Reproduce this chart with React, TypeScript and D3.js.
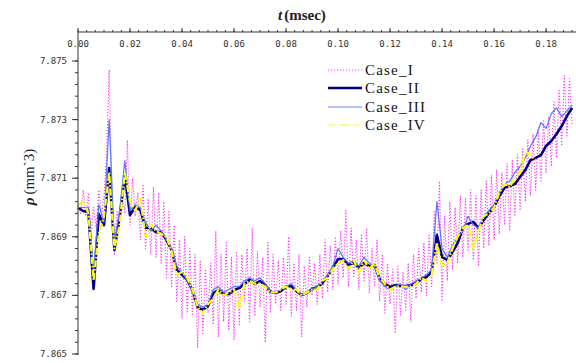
import React from "react";
import * as d3 from "d3";

// t (msec) sampling of the smooth cases and of the noisy Case_I
const tCoarse: number[] = Array.from({ length: 96 }, (_, i) => +(i * 0.002).toFixed(3));
const tFine: number[] = Array.from({ length: 191 }, (_, i) => +(i * 0.001).toFixed(3));

const caseI: number[] = [
  7.8701, 7.8698, 7.8706, 7.8697, 7.8705, 7.869, 7.87, 7.8693, 7.8706, 7.8697,
  7.8704, 7.8718, 7.8747, 7.8702, 7.8684, 7.8699, 7.8695, 7.8704, 7.8698, 7.8723,
  7.8694, 7.871, 7.8697, 7.8705, 7.8689, 7.8708, 7.8686, 7.8703, 7.8684, 7.8707,
  7.8683, 7.8705, 7.8681, 7.8702, 7.8676, 7.8699, 7.8673, 7.8694, 7.8668, 7.8689,
  7.8662, 7.869, 7.8664, 7.8686, 7.8663, 7.8684, 7.8652, 7.8682, 7.8657, 7.8679,
  7.8664, 7.8681, 7.866, 7.8692, 7.8656, 7.8684, 7.8661, 7.8688, 7.8658, 7.8683,
  7.8655, 7.8685, 7.866, 7.8684, 7.8668, 7.8686, 7.8661, 7.8693, 7.8663, 7.8685,
  7.8666, 7.8683, 7.8654, 7.8688, 7.8664, 7.8684, 7.8667, 7.8682, 7.8665, 7.8683,
  7.8667, 7.869, 7.8663, 7.8681, 7.8665, 7.8684, 7.8656, 7.868, 7.8666, 7.8683,
  7.867, 7.8681, 7.8667, 7.8684, 7.8669, 7.8689, 7.8671, 7.8687, 7.8672, 7.869,
  7.8674, 7.8692, 7.8676, 7.8699, 7.8673, 7.8693, 7.8676, 7.8689, 7.8672, 7.8691,
  7.8675, 7.8693, 7.8671, 7.8686, 7.8673, 7.8689, 7.8668, 7.8684, 7.8664, 7.8681,
  7.8667, 7.8679, 7.8657, 7.868, 7.8663, 7.8678, 7.8665, 7.8681, 7.8661, 7.8684,
  7.8669, 7.8686, 7.8671, 7.8688, 7.867, 7.8691, 7.8673, 7.8699, 7.8681, 7.8709,
  7.8668, 7.8697, 7.8675, 7.8702, 7.8679, 7.87, 7.8681, 7.8704, 7.8683, 7.8703,
  7.8685, 7.8706, 7.8682, 7.8704, 7.868, 7.8706, 7.8686, 7.8709, 7.8687, 7.8711,
  7.8689, 7.8713, 7.8691, 7.8712, 7.8694, 7.8715, 7.8692, 7.8716, 7.8697, 7.8718,
  7.8699, 7.872, 7.8702, 7.8723, 7.8704, 7.8725, 7.8706, 7.8727, 7.8709, 7.873,
  7.8712, 7.8731, 7.8714, 7.8736, 7.8717, 7.874, 7.8721, 7.8745, 7.8724, 7.8744,
  7.8728,
];

const caseII: number[] = [
  7.87, 7.86988, 7.86985, 7.86722, 7.86978, 7.8694, 7.87135, 7.86855, 7.86964, 7.87111,
  7.86974, 7.87002, 7.86991, 7.8693, 7.8693, 7.86916, 7.86916, 7.86889, 7.86855, 7.86787,
  7.8677, 7.86753, 7.86718, 7.8666, 7.8665, 7.86664, 7.86708, 7.86718, 7.86705, 7.86705,
  7.86718, 7.86725, 7.86739, 7.86753, 7.86739, 7.86749, 7.86735, 7.86712, 7.86708, 7.86715,
  7.86729, 7.86732, 7.86715, 7.86701, 7.86708, 7.86722, 7.86729, 7.86742, 7.86766, 7.86794,
  7.86824, 7.86824, 7.86804, 7.86811, 7.86794, 7.86811, 7.868, 7.86804, 7.86756, 7.86739,
  7.86729, 7.86735, 7.86732, 7.86732, 7.86735, 7.86742, 7.86756, 7.86763, 7.8678, 7.86906,
  7.86831, 7.86821, 7.86848, 7.86879, 7.8693, 7.86944, 7.86951, 7.8693, 7.86957, 7.86981,
  7.87002, 7.87039, 7.87067, 7.87073, 7.8708, 7.87104, 7.87128, 7.87162, 7.87169, 7.87179,
  7.8721, 7.87227, 7.87251, 7.87278, 7.87312, 7.8734,
];

const caseIII: number[] = [
  7.87, 7.87, 7.87, 7.8678, 7.8701, 7.8695, 7.873, 7.8688, 7.8699, 7.8716,
  7.8699, 7.8701, 7.87, 7.8695, 7.8692, 7.8694, 7.8692, 7.8689, 7.8686, 7.868,
  7.8678, 7.8675, 7.8672, 7.8667, 7.8666, 7.8667, 7.8672, 7.8673, 7.8671, 7.8672,
  7.8673, 7.8673, 7.8675, 7.8676, 7.8675, 7.8676, 7.8674, 7.8671, 7.8671, 7.8672,
  7.8673, 7.8674, 7.8672, 7.867, 7.8671, 7.8672, 7.8673, 7.8675, 7.8677, 7.868,
  7.8686, 7.8683, 7.8681, 7.8682, 7.868, 7.8683, 7.8681, 7.868, 7.8675, 7.8673,
  7.8672, 7.8673, 7.8674, 7.8672, 7.8674, 7.8675, 7.8676, 7.8677, 7.8679, 7.8702,
  7.8686, 7.8683, 7.8687, 7.869, 7.8692, 7.8697, 7.8694, 7.8693, 7.8697, 7.8699,
  7.8701, 7.8705, 7.8708, 7.8709, 7.8712, 7.8714, 7.8717, 7.8721, 7.8724, 7.8729,
  7.8727, 7.8732, 7.8734, 7.8731, 7.8733, 7.8735,
];

const caseIV: number[] = [
  7.8701, 7.8702, 7.8698, 7.8675, 7.8691, 7.8697, 7.8712, 7.8686, 7.8694, 7.8712,
  7.8702, 7.8699, 7.8703, 7.869, 7.8694, 7.8692, 7.8691, 7.869, 7.8685, 7.8677,
  7.8678, 7.8676, 7.8672, 7.8666, 7.8664, 7.8667, 7.8669, 7.8672, 7.867, 7.8671,
  7.8672, 7.8666, 7.8674, 7.8675, 7.8674, 7.8674, 7.8673, 7.8671, 7.8671, 7.8672,
  7.8673, 7.8672, 7.8672, 7.867, 7.8671, 7.8672, 7.8672, 7.8675, 7.8676, 7.8679,
  7.8681, 7.8682, 7.8679, 7.8682, 7.8678, 7.8682, 7.8679, 7.8681, 7.8676, 7.8674,
  7.8672, 7.8673, 7.8673, 7.8673, 7.8673, 7.8674, 7.8676, 7.8675, 7.8677, 7.8688,
  7.868, 7.8681, 7.8686, 7.869, 7.8693, 7.8694, 7.8686, 7.8692, 7.8697, 7.8698,
  7.87, 7.8705, 7.8708, 7.8707, 7.871, 7.8712, 7.8719, 7.8718, 7.8716,
];

const xTickLabels: string[] = ["0.00", "0.02", "0.04", "0.06", "0.08", "0.10", "0.12", "0.14", "0.16", "0.18"];
const yTickLabels: string[] = ["7.865", "7.867", "7.869", "7.871", "7.873", "7.875"];

const W = 576;
const H = 363;

const x = d3.scaleLinear().domain([0, 0.1915]).range([78, 576]);
const y = d3.scaleLinear().domain([7.865, 7.875]).range([354, 61]);

const series = [
  { name: "Case_I", t: tFine, v: caseI, color: "#ff33ff", width: 1.1, dash: "1.2,1.8" },
  { name: "Case_II", t: tCoarse, v: caseII, color: "#000080", width: 2.6, dash: "" },
  { name: "Case_III", t: tCoarse, v: caseIII, color: "#5577ff", width: 1.2, dash: "" },
  { name: "Case_IV", t: tCoarse, v: caseIV, color: "#ffff00", width: 2.2, dash: "7,2,1.5,2" },
];

const tickFont = "'DejaVu Sans Mono', monospace";

export default function App() {
  const line = d3
    .line<[number, number]>()
    .x((d) => x(d[0]))
    .y((d) => y(d[1]));

  const xMajor = xTickLabels.map((s) => +s);
  const xMinor = d3.range(0, 0.1915, 0.02 / 6);
  const yMajor = yTickLabels.map((s) => +s);
  const yMinor = d3.range(7.865, 7.87501, 0.0004);

  return (
    <svg
      width={W}
      height={H}
      style={{ position: "absolute", left: 0, top: 0, background: "#fff" }}
    >
      {/* title */}
      <text x={278} y={20} fontFamily="'Liberation Serif', serif" fontSize={15} fontWeight="bold" fill="#222">
        <tspan fontStyle="italic">t</tspan>
        <tspan dx={2}>(msec)</tspan>
      </text>

      {/* y label */}
      <text
        transform="translate(34,177) rotate(-90)"
        textAnchor="middle"
        fontFamily="'Liberation Serif', serif"
        fontSize={15}
        fill="#222"
      >
        <tspan fontStyle="italic" fontWeight="bold">ρ</tspan>
        <tspan dx={3}>(mm`3)</tspan>
      </text>

      {/* data */}
      {series.map((s) => (
        <path
          key={s.name}
          d={line(s.v.map((v, i) => [s.t[i], v] as [number, number])) ?? ""}
          fill="none"
          stroke={s.color}
          strokeWidth={s.width}
          strokeDasharray={s.dash || undefined}
          strokeLinejoin="round"
        />
      ))}

      {/* x axis at top */}
      <line x1={78} x2={576} y1={32} y2={32} stroke="#333" />
      {xMinor.map((t, i) => (
        <line key={"xm" + i} x1={x(t)} x2={x(t)} y1={32} y2={30} stroke="#333" />
      ))}
      {xMajor.map((t, i) => (
        <g key={"xM" + i}>
          <line x1={x(t)} x2={x(t)} y1={32} y2={28} stroke="#333" />
          <text x={x(t)} y={47} textAnchor="middle" fontFamily={tickFont} fontSize={9} fill="#333">
            {xTickLabels[i]}
          </text>
        </g>
      ))}

      {/* y axis */}
      <line x1={78} x2={78} y1={32} y2={355} stroke="#333" />
      {yMinor.map((v, i) => (
        <line key={"ym" + i} x1={75} x2={78} y1={y(v)} y2={y(v)} stroke="#333" />
      ))}
      {yMajor.map((v, i) => (
        <g key={"yM" + i}>
          <line x1={72} x2={78} y1={y(v)} y2={y(v)} stroke="#333" />
          <text x={67} y={y(v) + 3} textAnchor="end" fontFamily={tickFont} fontSize={9} fill="#333">
            {yTickLabels[i]}
          </text>
        </g>
      ))}

      {/* legend */}
      {series.map((s, i) => (
        <g key={"lg" + i} transform={`translate(0, ${[70, 88, 107, 125][i]})`}>
          <line
            x1={328}
            x2={362}
            y1={0}
            y2={0}
            stroke={s.color}
            strokeWidth={s.name === "Case_II" ? 2.6 : s.name === "Case_III" ? 1.5 : 1.2}
            strokeDasharray={s.dash || undefined}
            opacity={s.name === "Case_III" ? 0.6 : 1}
          />
          <text x={365} y={5} fontFamily="'Liberation Serif', serif" fontSize={15} letterSpacing={1.2} fill="#111">
            {s.name}
          </text>
        </g>
      ))}
    </svg>
  );
}
